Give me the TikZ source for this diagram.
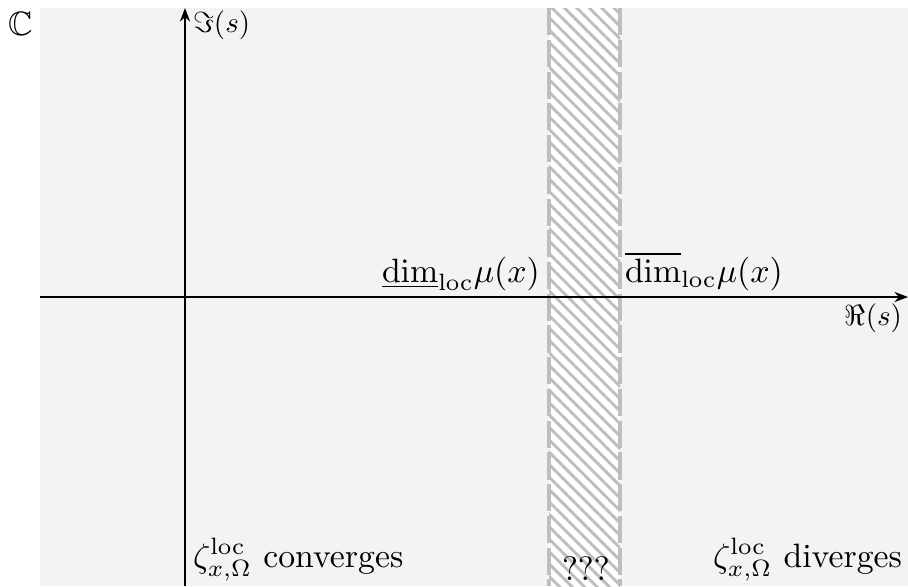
\documentclass[tikz,border=0pt]{standalone}
\usepackage{amsmath,amssymb,graphicx}
\usetikzlibrary{arrows.meta,patterns.meta}
\definecolor{bggray}{RGB}{243,243,243}
\definecolor{hatchgray}{RGB}{190,190,190}
\tikzset{
  axis/.style={line width=0.65pt,-{Stealth[length=4pt,width=3pt]}},
  border/.style={draw=hatchgray,line width=1.1pt,dash pattern=on 8pt off 1.4pt},
  lbl/.style={inner sep=0pt,outer sep=0pt}
}
\begin{document}
\begin{tikzpicture}[x=0.0104cm,y=-0.0104cm]
\useasboundingbox (0,0) rectangle (908,586);
\fill[bggray] (40,8) rectangle (908,586);
% strip
\fill[white] (549,8) rectangle (620,586);
\fill[pattern={Lines[angle=-45,distance=2.6pt,line width=0.85pt]},pattern color=hatchgray] (549,8) rectangle (620,586);
\coordinate (lt) at (549,8); \coordinate (lb) at (549,586);
\coordinate (rt) at (620,8); \coordinate (rb) at (620,586);
\draw[border] (lt) -- (lb);
\draw[border] (rt) -- (rb);
% axes
\coordinate (xs) at (40,297); \coordinate (xe) at (908,297);
\coordinate (ys) at (185,586); \coordinate (ye) at (185,8);
\draw[axis] (xs) -- (xe);
\draw[axis] (ys) -- (ye);
% labels
\node[lbl,anchor=base west] (C) at (8,35) {$\mathbb{C}$};
\node[lbl,anchor=base west] (im) at (193,32) {\scalebox{0.86}{$\Im(s)$}};
\node[lbl,anchor=base east] (re) at (902,325) {\scalebox{0.86}{$\Re(s)$}};
\node[lbl,anchor=base west] (ldim) at (382,282) {$\underline{\dim}_{\mathrm{loc}}\mu(x)$};
\node[lbl,anchor=base west] (udim) at (625,282) {$\overline{\dim}_{\mathrm{loc}}\mu(x)$};
\node[lbl,anchor=base west] (conv) at (193,567) {$\zeta_{x,\Omega}^{\mathrm{loc}}$ converges};
\node[lbl,anchor=base east] (div) at (902,567) {$\zeta_{x,\Omega}^{\mathrm{loc}}$ diverges};
\node[lbl,anchor=base west] (q) at (562,580) {???};
\end{tikzpicture}
\end{document}
